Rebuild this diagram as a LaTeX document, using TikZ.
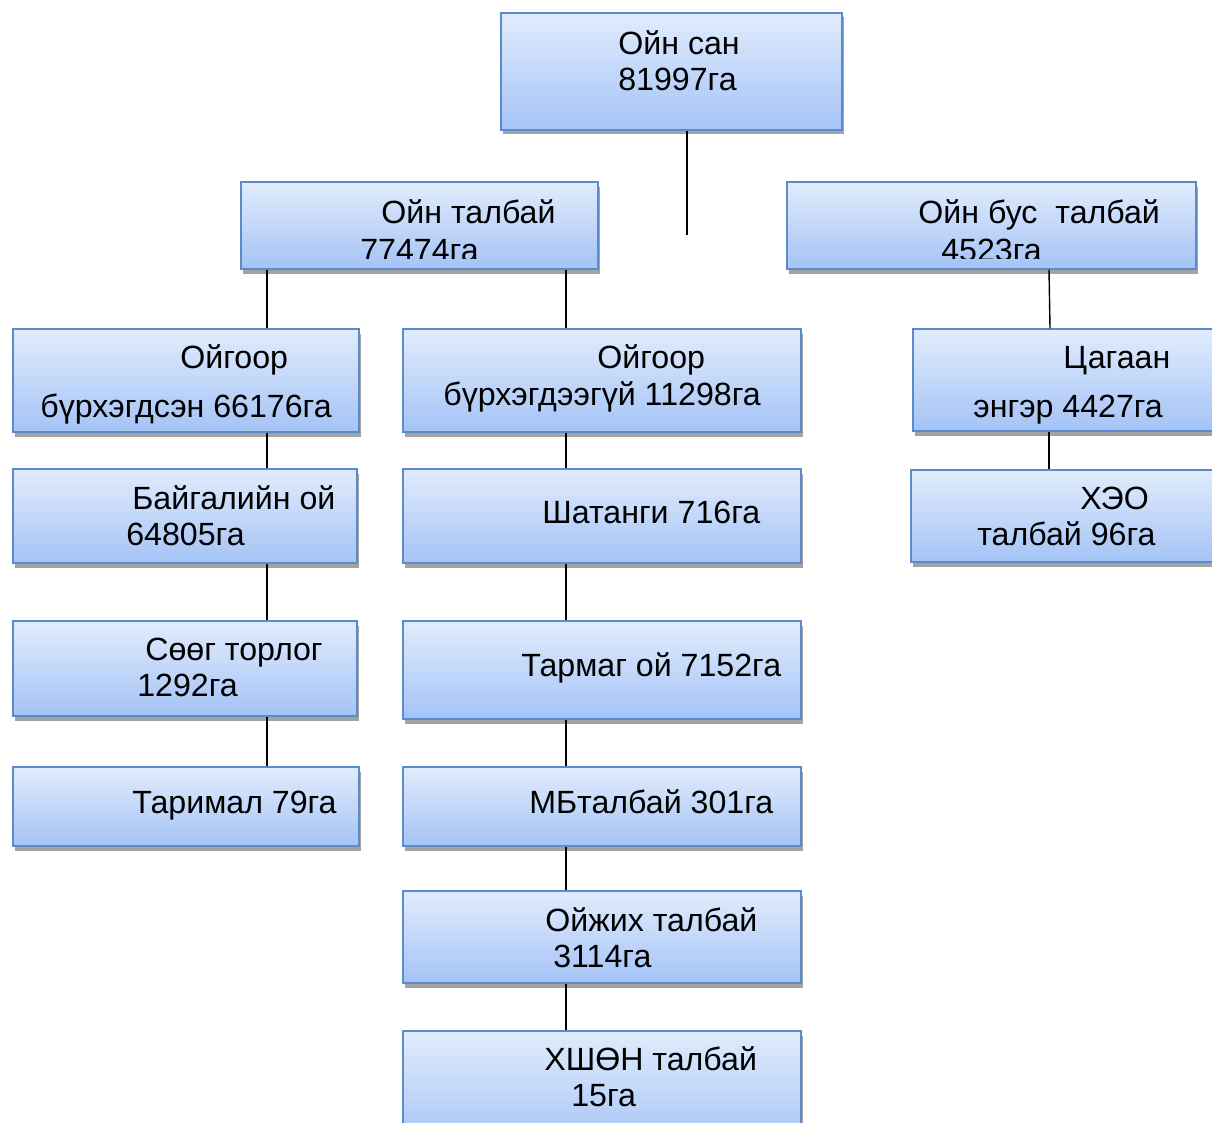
\documentclass[tikz,border=0pt]{standalone}
\usepackage{fontspec}
\setmainfont{Liberation Sans}
\usetikzlibrary{fit,shadows}
\definecolor{boxtop}{HTML}{E1ECFD}
\definecolor{boxbot}{HTML}{A4C3F6}
\definecolor{boxline}{HTML}{5B8BC9}
\tikzset{
  box/.style={draw=boxline, line width=0.7pt, top color=boxtop, bottom color=boxbot,
    inner sep=0pt, rectangle,
    drop shadow={shadow xshift=0.04cm, shadow yshift=-0.09cm, fill=black!45, opacity=0.8}},
  txt/.style={anchor=base west, inner sep=0pt, font=\fontsize{18.3}{21}\selectfont},
  conn/.style={draw=black, line width=0.8pt}
}
\begin{document}
\begin{tikzpicture}[x=0.02cm, y=-0.02cm]
\useasboundingbox (0,0) rectangle (1212,1122);
\clip (0,0) rectangle (1212,1122);
% boxes
\node[box, fit={(501,13) (842,130)}] (top) {};
\node[box, fit={(241,182) (598,269)}] (ot) {};
\node[box, fit={(787,182) (1196,269)}] (ob) {};
\node[box, fit={(13,329) (359,432)}] (l3) {};
\node[box, fit={(403,329) (801,432)}] (m3) {};
\node[box, fit={(913,329) (1230,431)}] (r3) {};
\node[box, fit={(13,469) (357,563)}] (l4) {};
\node[box, fit={(403,469) (801,563)}] (m4) {};
\node[box, fit={(911,470) (1230,562)}] (r4) {};
\node[box, fit={(13,621) (357,716)}] (l5) {};
\node[box, fit={(403,621) (801,719)}] (m5) {};
\node[box, fit={(13,767) (359,846)}] (l6) {};
\node[box, fit={(403,767) (801,846)}] (m6) {};
\node[box, fit={(403,891) (801,983)}] (m7) {};
\node[box, fit={(403,1031) (801,1150)}] (m8) {};
% texts
\node[txt] (t1a) at (618,55) {Ойн сан};
\node[txt] (t1b) at (618,91) {81997га};
\node[txt] (t2a) at (381,223) {Ойн талбай};
\begin{scope}
\clip (241,182) rectangle (598,258);
\node[txt] (t2b) at (360,261) {77474га};
\end{scope}
\node[txt] (t3a) at (918,223) {Ойн бус\ \ талбай};
\begin{scope}
\clip (787,182) rectangle (1196,258);
\node[txt] (t3b) at (941,261) {4523га};
\end{scope}
\node[txt] (t4a) at (180,368) {Ойгоор};
\node[txt] (t4b) at (40,417) {бүрхэгдсэн 66176га};
\node[txt] (t5a) at (597,368) {Ойгоор};
\node[txt] (t5b) at (443,405) {бүрхэгдээгүй 11298га};
\node[txt] (t6a) at (1063,368) {Цагаан};
\node[txt] (t6b) at (973,417) {энгэр 4427га};
\node[txt] (t7a) at (132,509) {Байгалийн ой};
\node[txt] (t7b) at (126,545) {64805га};
\node[txt] (t8) at (542,523) {Шатанги 716га};
\node[txt] (t9a) at (1080,509) {ХЭО};
\node[txt] (t9b) at (977,545) {талбай 96га};
\node[txt] (t10a) at (145,660) {Сөөг торлог};
\node[txt] (t10b) at (137,696) {1292га};
\node[txt] (t11) at (521,676) {Тармаг ой 7152га};
\node[txt] (t12) at (132,813) {Таримал 79га};
\node[txt] (t13) at (529,813) {МБталбай 301га};
\node[txt] (t14a) at (545,931) {Ойжих талбай};
\node[txt] (t14b) at (553,967) {3114га};
\node[txt] (t15a) at (544,1070) {ХШӨН талбай};
\node[txt] (t15b) at (571,1106) {15га};
% connectors
\coordinate (topend) at (687,235);
\draw[conn] (top.south -| topend) -- (topend);
\draw[conn] (ot.south -| 267,0) -- (l3.north -| 267,0);
\draw[conn] (ot.south -| 566,0) -- (m3.north -| 566,0);
\draw[conn] (ob.south -| 1049,0) -- (r3.north -| 1050,0);
\draw[conn] (l3.south -| 267,0) -- (l4.north -| 267,0);
\draw[conn] (l4.south -| 267,0) -- (l5.north -| 267,0);
\draw[conn] (l5.south -| 267,0) -- (l6.north -| 267,0);
\draw[conn] (m3.south -| 566,0) -- (m4.north -| 566,0);
\draw[conn] (m4.south -| 566,0) -- (m5.north -| 566,0);
\draw[conn] (m5.south -| 566,0) -- (m6.north -| 566,0);
\draw[conn] (m6.south -| 566,0) -- (m7.north -| 566,0);
\draw[conn] (m7.south -| 566,0) -- (m8.north -| 566,0);
\draw[conn] (r3.south -| 1049,0) -- (r4.north -| 1049,0);
\end{tikzpicture}
\end{document}
